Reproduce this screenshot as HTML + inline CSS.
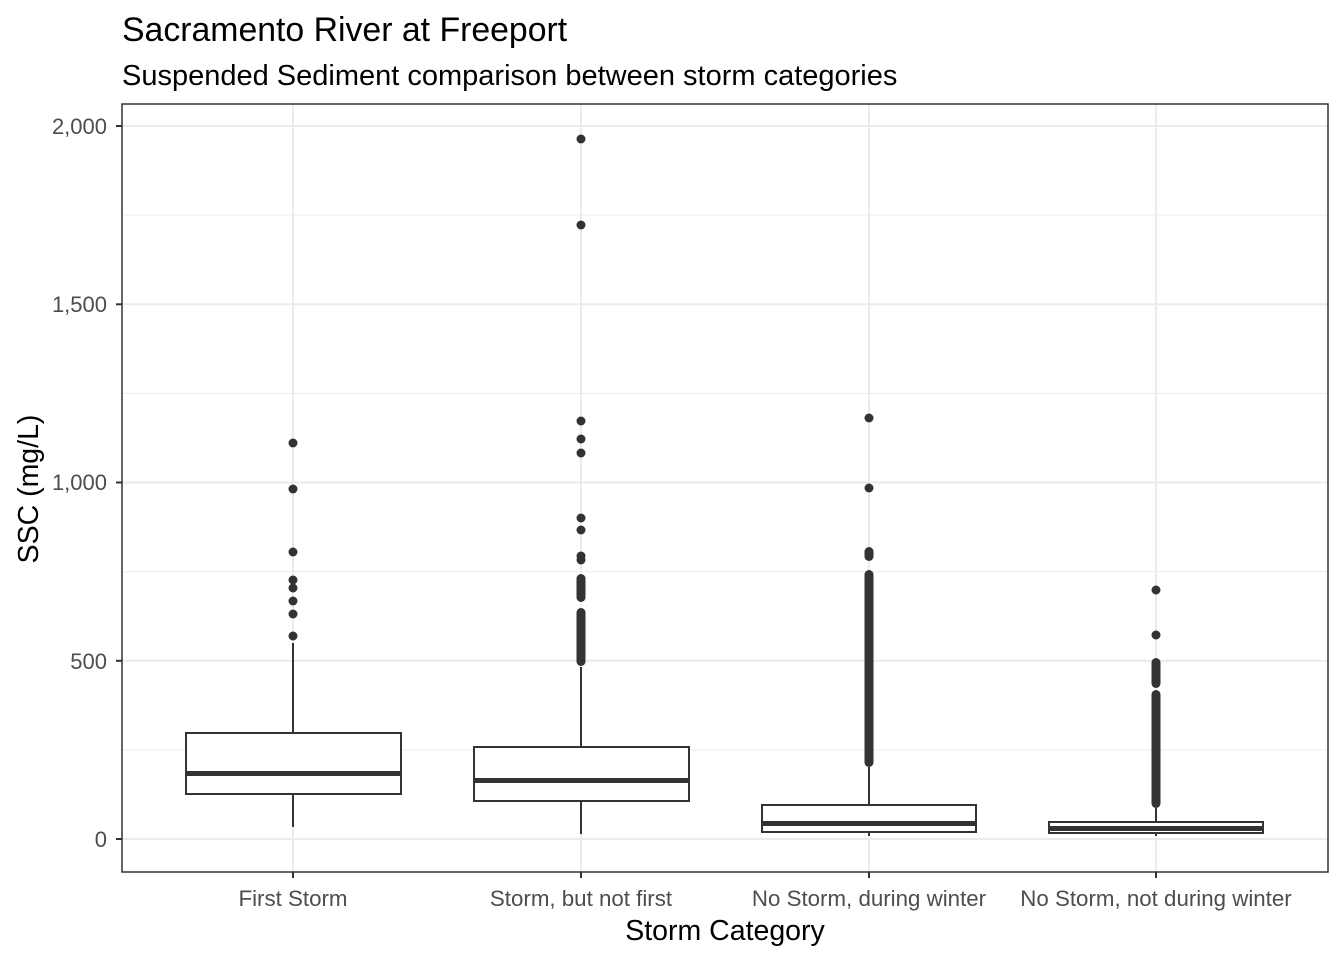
<!DOCTYPE html>
<html><head><meta charset="utf-8"><style>body{margin:0;background:#fff}</style></head><body>
<svg width="1344" height="960" xmlns="http://www.w3.org/2000/svg" font-family="Liberation Sans, Arial, sans-serif">
<rect width="1344" height="960" fill="#fff"/>
<g stroke="#ebebeb" stroke-width="1">
<line x1="122" x2="1328" y1="215" y2="215"/><line x1="122" x2="1328" y1="393.4" y2="393.4"/><line x1="122" x2="1328" y1="571.6" y2="571.6"/><line x1="122" x2="1328" y1="750" y2="750"/>
</g>
<g stroke="#ebebeb" stroke-width="2">
<line x1="122" x2="1328" y1="126" y2="126"/><line x1="122" x2="1328" y1="304.3" y2="304.3"/><line x1="122" x2="1328" y1="482.5" y2="482.5"/><line x1="122" x2="1328" y1="660.8" y2="660.8"/><line x1="122" x2="1328" y1="839" y2="839"/>
<line x1="293" x2="293" y1="104" y2="872"/><line x1="581" x2="581" y1="104" y2="872"/><line x1="869" x2="869" y1="104" y2="872"/><line x1="1156" x2="1156" y1="104" y2="872"/>
</g>
<g stroke="#333" stroke-width="2" fill="#fff">
<line x1="293" x2="293" y1="643" y2="733"/><line x1="293" x2="293" y1="794" y2="827"/>
<rect x="186" y="733" width="215" height="61"/>
<line x1="581" x2="581" y1="667" y2="747"/><line x1="581" x2="581" y1="801" y2="834"/>
<rect x="474" y="747" width="215" height="54"/>
<line x1="869" x2="869" y1="767" y2="805"/><line x1="869" x2="869" y1="832" y2="836"/>
<rect x="762" y="805" width="214" height="27"/>
<line x1="1156" x2="1156" y1="808" y2="822"/><line x1="1156" x2="1156" y1="833" y2="836"/>
<rect x="1049" y="822" width="214" height="11"/>
</g>
<g fill="#333">
<rect x="186" y="771" width="215" height="5"/>
<rect x="474" y="778" width="215" height="5"/>
<rect x="762" y="821" width="214" height="5"/>
<rect x="1049" y="826" width="214" height="5"/>
<circle cx="293" cy="443" r="4.5"/><circle cx="293" cy="489" r="4.5"/><circle cx="293" cy="552" r="4.5"/><circle cx="293" cy="580" r="4.5"/><circle cx="293" cy="588" r="4.5"/><circle cx="293" cy="601" r="4.5"/><circle cx="293" cy="614" r="4.5"/><circle cx="293" cy="636" r="4.5"/>
<circle cx="581" cy="139" r="4.5"/><circle cx="581" cy="225" r="4.5"/><circle cx="581" cy="421" r="4.5"/><circle cx="581" cy="439" r="4.5"/><circle cx="581" cy="453" r="4.5"/><circle cx="581" cy="518" r="4.5"/><circle cx="581" cy="530" r="4.5"/><circle cx="581" cy="556" r="4.5"/><circle cx="581" cy="560" r="4.5"/>
<rect x="576.5" y="574" width="9" height="28" rx="4.5"/><rect x="576.5" y="608" width="9" height="58" rx="4.5"/>
<circle cx="869" cy="418" r="4.5"/><circle cx="869" cy="488" r="4.5"/>
<rect x="864.5" y="547" width="9" height="14" rx="4.5"/>
<rect x="864.5" y="570" width="9" height="197" rx="4.5"/>
<circle cx="1156" cy="590" r="4.5"/><circle cx="1156" cy="635" r="4.5"/>
<rect x="1151.5" y="658" width="9" height="30" rx="4.5"/>
<rect x="1151.5" y="690" width="9" height="118" rx="4.5"/>
</g>
<rect x="122" y="104" width="1206" height="768" fill="none" stroke="#333" stroke-width="1.5"/>
<g stroke="#333" stroke-width="2">
<line x1="116" x2="122" y1="126" y2="126"/><line x1="116" x2="122" y1="304.3" y2="304.3"/><line x1="116" x2="122" y1="482.5" y2="482.5"/><line x1="116" x2="122" y1="660.8" y2="660.8"/><line x1="116" x2="122" y1="839" y2="839"/>
<line x1="293" x2="293" y1="872" y2="878"/><line x1="581" x2="581" y1="872" y2="878"/><line x1="869" x2="869" y1="872" y2="878"/><line x1="1156" x2="1156" y1="872" y2="878"/>
</g>
<g fill="#4d4d4d" font-size="22" text-anchor="end">
<text x="107" y="134">2,000</text><text x="107" y="312">1,500</text><text x="107" y="490">1,000</text><text x="107" y="669">500</text><text x="107" y="847">0</text>
</g>
<g fill="#4d4d4d" font-size="22.3" text-anchor="middle">
<text x="293" y="906">First Storm</text><text x="581" y="906">Storm, but not first</text><text x="869" y="906">No Storm, during winter</text><text x="1156" y="906">No Storm, not during winter</text>
</g>
<text x="725" y="940" font-size="28.5" text-anchor="middle" fill="#000">Storm Category</text>
<text transform="translate(38,489) rotate(-90)" font-size="28.5" text-anchor="middle" fill="#000">SSC (mg/L)</text>
<text x="122" y="41" font-size="33.8" fill="#000">Sacramento River at Freeport</text>
<text x="122" y="85" font-size="29" fill="#000">Suspended Sediment comparison between storm categories</text>
</svg>
</body></html>
